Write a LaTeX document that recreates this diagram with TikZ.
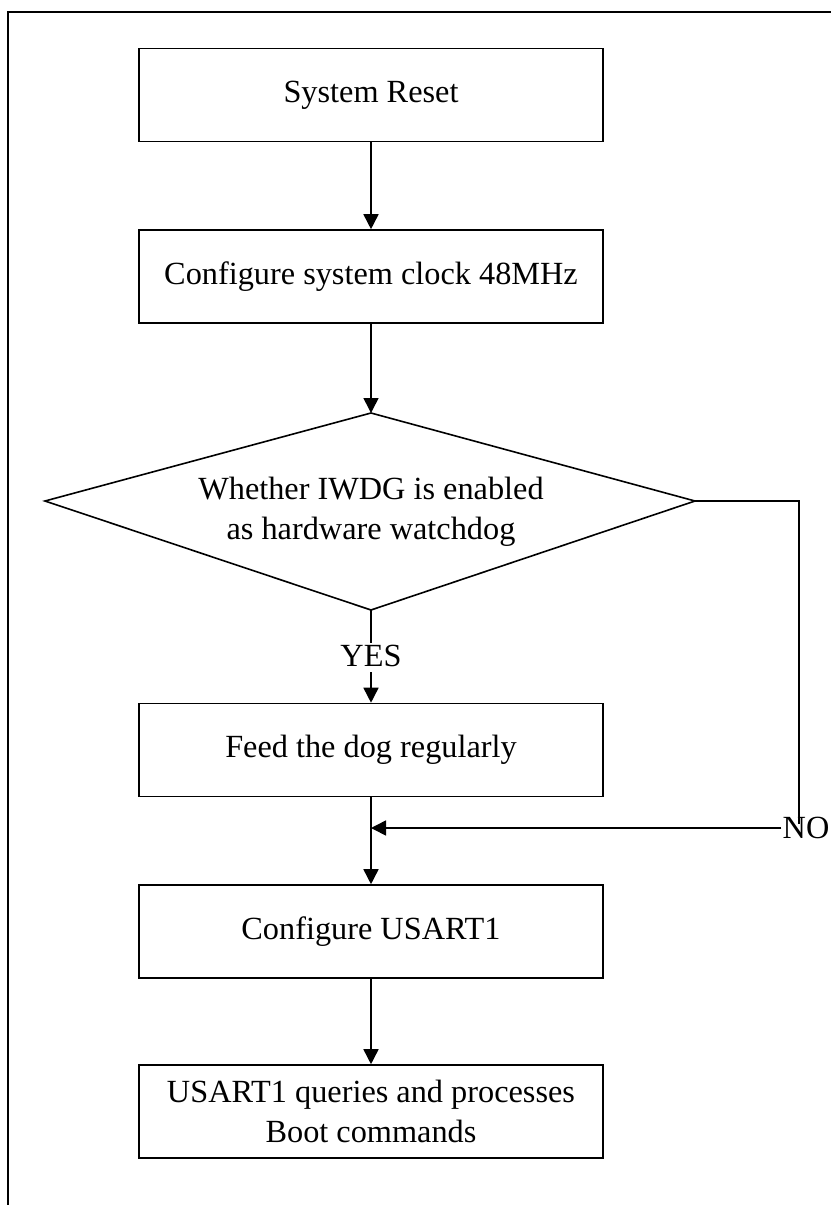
\documentclass[tikz,border=0pt]{standalone}
\usepackage{fontspec}
\setmainfont{Liberation Serif}
\usetikzlibrary{arrows.meta}
\begin{document}
\begin{tikzpicture}[x=1pt,y=-1pt,
  proc/.style={draw, line width=1.6pt, minimum width=464pt, minimum height=93pt, inner sep=0pt, align=center, font=\fontsize{32.3}{40}\selectfont},
  conn/.style={line width=1.6pt, -{Triangle[length=15pt,width=15pt]}},
  plain/.style={line width=1.6pt},
  lbl/.style={font=\fontsize{32.3}{40}\selectfont, inner sep=0pt, align=center}]
\useasboundingbox (0,0) rectangle (831,1205);
\coordinate (fb) at (8,1205);
\coordinate (ftl) at (8,12);
\coordinate (ftr) at (831,12);
\draw[plain] (fb) -- (ftl) -- (ftr);

\node[proc] (reset) at (371,95) {System Reset};
\node[proc] (clock) at (371,276.5) {Configure system clock 48MHz};

\coordinate (dt) at (371,413);
\coordinate (dr) at (695,501);
\coordinate (db) at (371,610);
\coordinate (dl) at (45,501);
\draw[plain] (dt) -- (dr) -- (db) -- (dl) -- cycle;
\node[lbl] (q) at (371,512) {Whether IWDG is enabled\\as hardware watchdog};

\node[lbl] (yes) at (371,656) {YES};
\node[proc] (feed) at (371,750) {Feed the dog regularly};
\coordinate (m) at (371,828);
\node[lbl] (no) at (806,828) {NO};
\coordinate (nr) at (799,501);
\node[proc] (usart) at (371,931.5) {Configure USART1};
\node[proc] (boot) at (371,1111.5) {USART1 queries and processes\\Boot commands};

\draw[conn] (reset) -- (clock);
\draw[conn] (clock) -- (dt);
\draw[plain, shorten >=2pt] (db) -- (yes.north);
\draw[conn, shorten <=5pt] (yes.south) -- (feed.north);
\draw[plain] (dr) -- (nr) -- ([yshift=-7pt]nr |- no.north);
\draw[conn, shorten <=1pt] (no.west) -- (m);
\draw[conn] (feed.south) -- (usart.north);
\draw[conn] (usart.south) -- (boot.north);
\end{tikzpicture}
\end{document}
